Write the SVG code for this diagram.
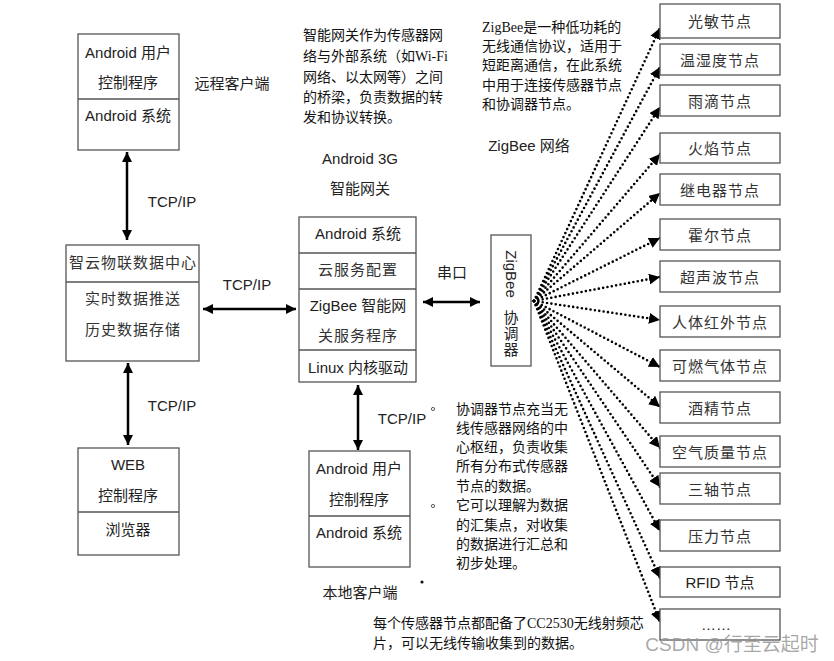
<svg xmlns="http://www.w3.org/2000/svg" width="834" height="661" viewBox="0 0 834 661">
<style>
.box{fill:#fff;stroke:#555;stroke-width:1.3}
.div{stroke:#555;stroke-width:1.3}
.t{font-family:"Liberation Sans","Noto Sans CJK SC",sans-serif;font-size:15px;fill:#222;text-anchor:middle;dominant-baseline:central}
.n{font-family:"Liberation Sans","Noto Sans CJK SC",sans-serif;font-size:15px;fill:#333;text-anchor:middle;dominant-baseline:central;letter-spacing:1px}
.p{font-family:"Liberation Serif","Noto Sans CJK SC",serif;font-size:14px;fill:#111;dominant-baseline:central}
.s{stroke:#000;stroke-width:2.5;fill:none}
.d{stroke:#000;stroke-width:2.6;fill:none;stroke-dasharray:0 4.4;stroke-linecap:round}
</style>
<defs>
<marker id="ah" viewBox="0 0 10 10" refX="10" refY="5" markerWidth="10" markerHeight="10" markerUnits="userSpaceOnUse" orient="auto-start-reverse"><path d="M0,0 L10,5 L0,10 Z" fill="#000"/></marker>
<marker id="dh" viewBox="0 0 10 10" refX="10" refY="5" markerWidth="11" markerHeight="11" markerUnits="userSpaceOnUse" orient="auto"><path d="M0,0 L10,5 L0,10 Z" fill="#000"/></marker>
</defs>

<g id="connectors">
<line class="s" x1="127" y1="152" x2="127" y2="240" marker-start="url(#ah)" marker-end="url(#ah)"/>
<line class="s" x1="128" y1="363" x2="128" y2="445" marker-start="url(#ah)" marker-end="url(#ah)"/>
<line class="s" x1="203" y1="309" x2="296" y2="309" marker-start="url(#ah)" marker-end="url(#ah)"/>
<line class="s" x1="423" y1="302" x2="480" y2="302" marker-start="url(#ah)" marker-end="url(#ah)"/>
<line class="s" x1="358" y1="385" x2="358" y2="450" marker-start="url(#ah)" marker-end="url(#ah)"/>
<g>
<line class="d" x1="534" y1="301" x2="660" y2="28" marker-end="url(#dh)"/>
<line class="d" x1="534" y1="301" x2="660" y2="67" marker-end="url(#dh)"/>
<line class="d" x1="534" y1="301" x2="660" y2="107" marker-end="url(#dh)"/>
<line class="d" x1="534" y1="301" x2="660" y2="154" marker-end="url(#dh)"/>
<line class="d" x1="534" y1="301" x2="660" y2="193" marker-end="url(#dh)"/>
<line class="d" x1="534" y1="301" x2="660" y2="238" marker-end="url(#dh)"/>
<line class="d" x1="534" y1="301" x2="660" y2="277" marker-end="url(#dh)"/>
<line class="d" x1="534" y1="301" x2="660" y2="320" marker-end="url(#dh)"/>
<line class="d" x1="534" y1="301" x2="660" y2="367" marker-end="url(#dh)"/>
<line class="d" x1="534" y1="301" x2="660" y2="407" marker-end="url(#dh)"/>
<line class="d" x1="534" y1="301" x2="660" y2="448" marker-end="url(#dh)"/>
<line class="d" x1="534" y1="301" x2="660" y2="487" marker-end="url(#dh)"/>
<line class="d" x1="534" y1="301" x2="660" y2="531" marker-end="url(#dh)"/>
<line class="d" x1="534" y1="301" x2="660" y2="578" marker-end="url(#dh)"/>
<line class="d" x1="534" y1="301" x2="660" y2="622" marker-end="url(#dh)"/>
</g>
<text class="t" x="172" y="201">TCP/IP</text>
<text class="t" x="247" y="284">TCP/IP</text>
<text class="t" x="172" y="405">TCP/IP</text>
<text class="t" x="402" y="418">TCP/IP</text>
<text class="t" x="452" y="272">串口</text>
</g>

<g id="remote-client">
<rect class="box" x="78" y="34" width="101" height="116"/>
<line class="div" x1="78" y1="99" x2="179" y2="99"/>
<text class="t" x="128" y="52">Android 用户</text>
<text class="t" x="128" y="82">控制程序</text>
<text class="t" x="128" y="115">Android 系统</text>
<text class="t" x="232" y="83">远程客户端</text>
</g>

<g id="data-center">
<rect class="box" x="66" y="245" width="133" height="116"/>
<line class="div" x1="66" y1="282" x2="199" y2="282"/>
<text class="n" x="133" y="262">智云物联数据中心</text>
<text class="n" x="133" y="298">实时数据推送</text>
<text class="n" x="133" y="329">历史数据存储</text>
</g>

<g id="web-client">
<rect class="box" x="78" y="448" width="101" height="107"/>
<line class="div" x1="78" y1="512" x2="179" y2="512"/>
<text class="t" x="128" y="464">WEB</text>
<text class="t" x="128" y="495">控制程序</text>
<text class="t" x="128" y="529">浏览器</text>
</g>

<g id="gateway">
<text class="t" x="360" y="158">Android 3G</text>
<text class="t" x="360" y="188" fill="#444">智能网关</text>
<rect class="box" x="299" y="217" width="117" height="165"/>
<line class="div" x1="299" y1="253" x2="416" y2="253"/>
<line class="div" x1="299" y1="289" x2="416" y2="289"/>
<line class="div" x1="299" y1="350" x2="416" y2="350"/>
<text class="t" x="358" y="233">Android 系统</text>
<text class="n" x="358" y="269">云服务配置</text>
<text class="t" x="358" y="305">ZigBee 智能网</text>
<text class="n" x="358" y="335">关服务程序</text>
<text class="t" x="358" y="367">Linux 内核驱动</text>
</g>

<g id="local-client">
<rect class="box" x="309" y="451" width="101" height="116"/>
<line class="div" x1="309" y1="516" x2="410" y2="516"/>
<text class="t" x="359" y="468">Android 用户</text>
<text class="t" x="359" y="499">控制程序</text>
<text class="t" x="359" y="532">Android 系统</text>
<text class="t" x="360" y="592">本地客户端</text>
</g>

<g id="coordinator">
<rect class="box" x="491" y="235" width="40" height="131"/>
<text class="t" x="511" y="274" transform="rotate(90 511 274)">ZigBee</text>
<text class="t" x="511" y="317" font-size="14">协</text>
<text class="t" x="511" y="333" font-size="14">调</text>
<text class="t" x="511" y="349" font-size="14">器</text>
<text class="t" x="529" y="145">ZigBee 网络</text>
</g>

<g id="sensor-nodes">
<g id="n1"><rect class="box" x="660" y="4" width="120" height="34"/><text class="n" x="720" y="21">光敏节点</text></g>
<g id="n2"><rect class="box" x="660" y="44" width="120" height="31"/><text class="n" x="720" y="60">温湿度节点</text></g>
<g id="n3"><rect class="box" x="660" y="85" width="120" height="31"/><text class="n" x="720" y="101">雨滴节点</text></g>
<g id="n4"><rect class="box" x="660" y="133" width="120" height="30"/><text class="n" x="720" y="148">火焰节点</text></g>
<g id="n5"><rect class="box" x="660" y="174" width="120" height="31"/><text class="n" x="720" y="190">继电器节点</text></g>
<g id="n6"><rect class="box" x="660" y="219" width="120" height="31"/><text class="n" x="720" y="235">霍尔节点</text></g>
<g id="n7"><rect class="box" x="660" y="261" width="120" height="31"/><text class="n" x="720" y="277">超声波节点</text></g>
<g id="n8"><rect class="box" x="660" y="306" width="120" height="31"/><text class="n" x="720" y="322">人体红外节点</text></g>
<g id="n9"><rect class="box" x="660" y="350" width="120" height="31"/><text class="n" x="720" y="366">可燃气体节点</text></g>
<g id="n10"><rect class="box" x="660" y="392" width="120" height="31"/><text class="n" x="720" y="408">酒精节点</text></g>
<g id="n11"><rect class="box" x="660" y="436" width="120" height="31"/><text class="n" x="720" y="452">空气质量节点</text></g>
<g id="n12"><rect class="box" x="660" y="473" width="120" height="31"/><text class="n" x="720" y="489">三轴节点</text></g>
<g id="n13"><rect class="box" x="660" y="520" width="120" height="31"/><text class="n" x="720" y="536">压力节点</text></g>
<g id="n14"><rect class="box" x="660" y="567" width="120" height="30"/><text class="t" x="720" y="582">RFID 节点</text></g>
<g id="n15"><rect class="box" x="660" y="609" width="120" height="31"/><text class="t" x="716" y="624" font-size="12">……</text></g>
</g>

<g id="annotations">
<text class="p"><tspan x="303" y="35">智能网关作为传感器网</tspan><tspan x="303" y="56">络与外部系统（如Wi-Fi</tspan><tspan x="303" y="77">网络、以太网等）之间</tspan><tspan x="303" y="97">的桥梁，负责数据的转</tspan><tspan x="303" y="117">发和协议转换。</tspan></text>
<text class="p"><tspan x="482" y="27">ZigBee是一种低功耗的</tspan><tspan x="482" y="46">无线通信协议，适用于</tspan><tspan x="482" y="65">短距离通信，在此系统</tspan><tspan x="482" y="85">中用于连接传感器节点</tspan><tspan x="482" y="104">和协调器节点。</tspan></text>
<text class="p"><tspan x="456" y="409">协调器节点充当无</tspan><tspan x="456" y="428">线传感器网络的中</tspan><tspan x="456" y="447">心枢纽，负责收集</tspan><tspan x="456" y="466">所有分布式传感器</tspan><tspan x="456" y="486">节点的数据。</tspan><tspan x="456" y="505">它可以理解为数据</tspan><tspan x="456" y="525">的汇集点，对收集</tspan><tspan x="456" y="544">的数据进行汇总和</tspan><tspan x="456" y="563">初步处理。</tspan></text>
<circle cx="433" cy="409" r="1.6" fill="none" stroke="#333" stroke-width="0.8"/>
<circle cx="433" cy="506" r="1.6" fill="none" stroke="#333" stroke-width="0.8"/>
<circle cx="422" cy="582" r="1.6" fill="#111"/>
<text class="p"><tspan x="373" y="623">每个传感器节点都配备了CC2530无线射频芯</tspan><tspan x="373" y="643">片，可以无线传输收集到的数据。</tspan></text>
<text x="732" y="644" font-family="Liberation Sans,Noto Sans CJK SC,sans-serif" font-size="19" fill="#999" fill-opacity="0.85" text-anchor="middle" dominant-baseline="central">CSDN @行至云起时</text>
</g>
</svg>
